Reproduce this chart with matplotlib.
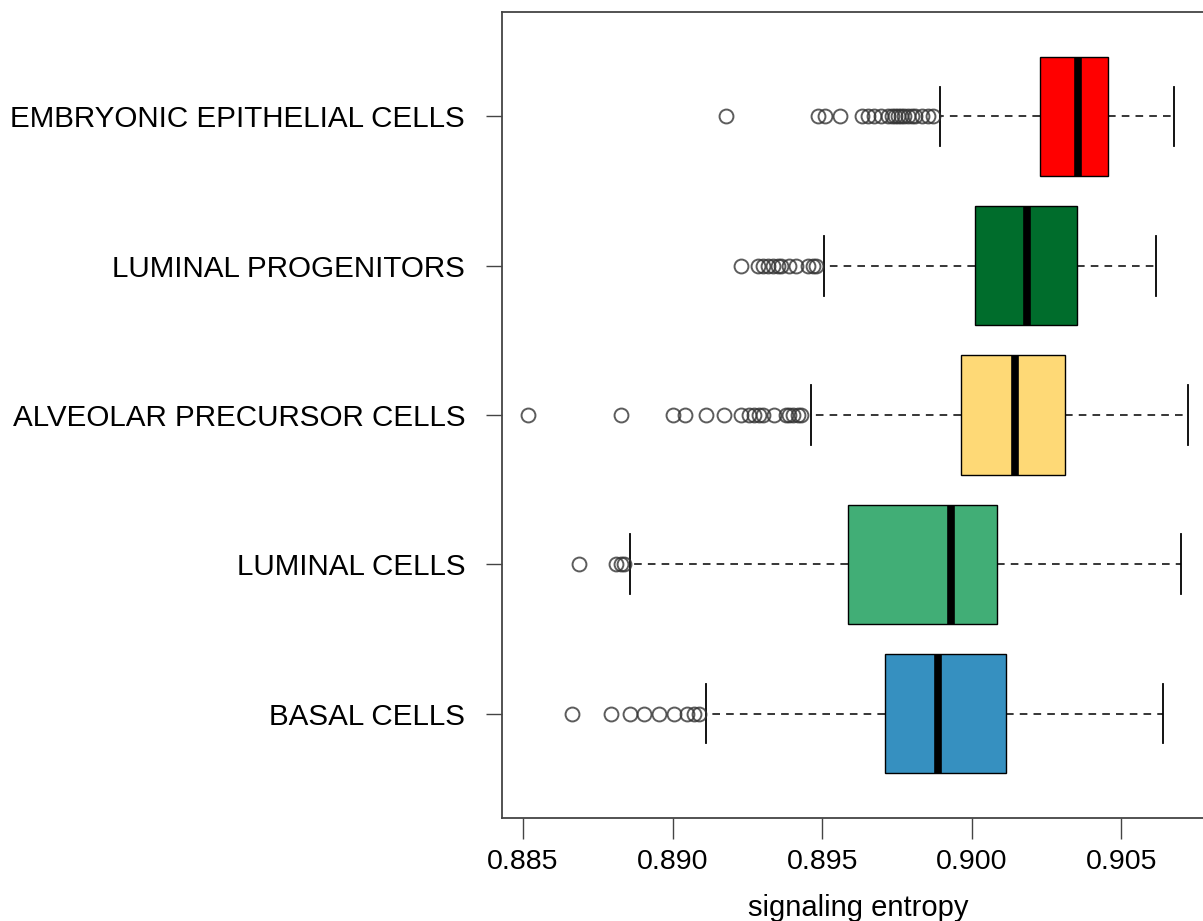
import numpy as np
import matplotlib.pyplot as plt

plt.rcParams['font.family'] = ['Liberation Sans', 'DejaVu Sans']

# groups, bottom to top
groups = ["BASAL CELLS", "LUMINAL CELLS", "ALVEOLAR PRECURSOR CELLS",
          "LUMINAL PROGENITORS", "EMBRYONIC EPITHELIAL CELLS"]
colors = ["#3690C0", "#41AE76", "#FED976", "#006D2C", "#FF0000"]

# five-number summaries of signaling entropy per group
whislo = [0.89113, 0.88859, 0.89463, 0.89507, 0.89893]
q1 = [0.89711, 0.89587, 0.89963, 0.90010, 0.90227]
med = [0.89886, 0.89930, 0.90144, 0.90185, 0.90355]
q3 = [0.90114, 0.90084, 0.90312, 0.90352, 0.90456]
whishi = [0.90638, 0.90698, 0.90722, 0.90617, 0.90677]

# outlying cells
fliers = [
    [0.88663, 0.88795, 0.88859, 0.88904, 0.88954, 0.89004, 0.89049,
     0.89071, 0.89088],
    [0.88686, 0.88812, 0.88826, 0.88839],
    [0.88518, 0.88826, 0.89002, 0.89041, 0.89111, 0.89172, 0.89228,
     0.89256, 0.89273, 0.89290, 0.89301, 0.89340, 0.89379, 0.89390,
     0.89402, 0.89418, 0.89430],
    [0.89228, 0.89284, 0.89301, 0.89318, 0.89335, 0.89351, 0.89362,
     0.89389, 0.89413, 0.89452, 0.89469, 0.89480],
    [0.89178, 0.89486, 0.89510, 0.89560, 0.89634, 0.89653, 0.89674,
     0.89698, 0.89720, 0.89732, 0.89742, 0.89754, 0.89765, 0.89775,
     0.89788, 0.89799, 0.89809, 0.89832, 0.89855, 0.89872],
]

xticks = [0.885, 0.890, 0.895, 0.900, 0.905]

stats = []
for i in range(len(groups)):
    stats.append(dict(whislo=whislo[i], q1=q1[i], med=med[i], q3=q3[i],
                      whishi=whishi[i], fliers=fliers[i]))

fig = plt.figure(figsize=(12.03, 9.21), dpi=100)
ax = fig.add_axes([0.4173, 0.1118, 0.5920, 0.8752])

pos = np.arange(1, len(groups) + 1)
bp = ax.bxp(stats, positions=pos, vert=False, widths=0.8, capwidths=0.4,
            patch_artist=True, showfliers=True,
            boxprops=dict(edgecolor="black", linewidth=1.0),
            medianprops=dict(color="black", linewidth=5.5, solid_capstyle="butt"),
            whiskerprops=dict(color="black", linewidth=1.1, linestyle=(0, (5, 4))),
            capprops=dict(color="black", linewidth=1.3),
            flierprops=dict(marker="o", markersize=10, markerfacecolor="none",
                            markeredgecolor="#333333", markeredgewidth=1.4,
                            alpha=0.8, linestyle="none"))
for patch, c in zip(bp["boxes"], colors):
    patch.set_facecolor(c)

# R-style 4% padding on the data range
lo = min(min(f) for f in fliers)
hi = max(whishi)
pad = (hi - lo) * 0.04
ax.set_xlim(lo - pad, hi + pad)
ax.set_ylim(0.3, len(groups) + 0.7)

ax.set_xticks(xticks)
ax.set_xticklabels(["%.3f" % t for t in xticks])
ax.set_yticks(pos)
ax.set_yticklabels(groups)
ax.tick_params(axis="x", labelsize=20.5, length=15, width=1.0, color="#444444", pad=7)
ax.tick_params(axis="y", labelsize=21.3, length=11.5, width=1.0, color="#444444", pad=15)
ax.set_xlabel("signaling entropy", fontsize=21, labelpad=14)

for s in ax.spines.values():
    s.set_color("#444444")
    s.set_linewidth(1.3)

fig.savefig("out.png", dpi=100)
